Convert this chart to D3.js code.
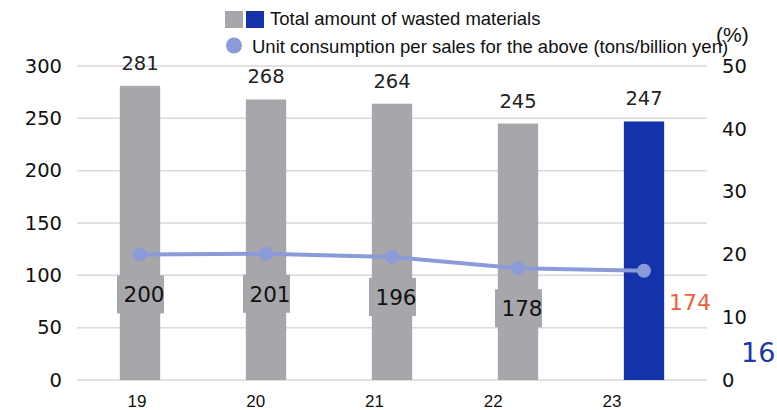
<!DOCTYPE html>
<html>
<head>
<meta charset="utf-8">
<script src="https://cdn.jsdelivr.net/npm/d3@7"></script>
<style>
  body { margin: 0; background: #fff; }
  text { font-family: "DejaVu Sans", Verdana, sans-serif; }
  .leg { font-family: "Liberation Sans", Arial, sans-serif; }
</style>
</head>
<body>
<div id="chart"></div>
<script>
// data
const years = ["19", "20", "21", "22", "23"];
const wasted = [281, 268, 264, 245, 247];
const unitRate = [20.0, 20.1, 19.6, 17.8, 17.4];
const unitLabels = ["200", "201", "196", "178", "174"];
const leftTicks = [0, 50, 100, 150, 200, 250, 300];
const rightTicks = [0, 10, 20, 30, 40, 50];

const width = 777;
const height = 410;

const grey = "#a7a7ab";
const blue = "#1432a9";
const lineColor = "#8b9ad8";

const svg = d3.select("#chart")
  .append("svg")
    .attr("width", width)
    .attr("height", height);

// scales
const x = d3.scaleBand()
  .domain(years)
  .range([77, 707])
  .paddingInner(0.68)
  .paddingOuter(0.34);

// year labels sit slightly off the bar centres in the original
const xLabel = d3.scalePoint()
  .domain(years)
  .range([137, 612]);

const yLeft = d3.scaleLinear().domain([0, 300]).range([380, 66]);
const yRight = d3.scaleLinear().domain([0, 50]).range([380, 66]);

// gridlines
svg.append("g")
  .selectAll("line")
  .data(leftTicks)
  .enter()
  .append("line")
    .attr("x1", 77)
    .attr("x2", 707)
    .attr("y1", d => yLeft(d))
    .attr("y2", d => yLeft(d))
    .attr("stroke", "#d9d9d9")
    .attr("stroke-width", 1.5);

// left axis
const leftAxis = svg.append("g")
  .attr("transform", "translate(72,0)")
  .call(d3.axisLeft(yLeft).tickValues(leftTicks).tickSize(0).tickPadding(10));
leftAxis.select(".domain").remove();
leftAxis.selectAll("text")
  .attr("font-size", 19.5)
  .attr("fill", "#111")
  .attr("font-family", "DejaVu Sans, sans-serif");

// right axis
const rightAxis = svg.append("g")
  .attr("transform", "translate(712,0)")
  .call(d3.axisRight(yRight).tickValues(rightTicks).tickSize(0).tickPadding(10));
rightAxis.select(".domain").remove();
rightAxis.selectAll("text")
  .attr("font-size", 19.5)
  .attr("fill", "#111")
  .attr("font-family", "DejaVu Sans, sans-serif");

svg.append("text")
  .attr("class", "leg")
  .attr("x", 716)
  .attr("y", 42)
  .attr("font-size", 21)
  .attr("fill", "#111")
  .text("(%)");

// bars
svg.append("g")
  .selectAll("rect")
  .data(wasted)
  .enter()
  .append("rect")
    .attr("x", (d, i) => x(years[i]))
    .attr("y", d => yLeft(d))
    .attr("width", x.bandwidth())
    .attr("height", d => yLeft(0) - yLeft(d))
    .attr("fill", (d, i) => i === years.length - 1 ? blue : grey);

// bar values
svg.append("g")
  .selectAll("text")
  .data(wasted)
  .enter()
  .append("text")
    .attr("x", (d, i) => x(years[i]) + x.bandwidth() / 2)
    .attr("y", d => yLeft(d) - 16)
    .attr("text-anchor", "middle")
    .attr("font-size", 19.5)
    .attr("fill", "#222")
    .text(d => d);

// year labels
svg.append("g")
  .selectAll("text")
  .data(years)
  .enter()
  .append("text")
    .attr("class", "leg")
    .attr("x", d => xLabel(d))
    .attr("y", 407)
    .attr("text-anchor", "middle")
    .attr("font-size", 17)
    .attr("fill", "#111")
    .text(d => d);

// line
const line = d3.line()
  .x((d, i) => x(years[i]) + x.bandwidth() / 2)
  .y(d => yRight(d));

svg.append("path")
  .datum(unitRate)
  .attr("d", line)
  .attr("fill", "none")
  .attr("stroke", lineColor)
  .attr("stroke-width", 4);

svg.append("g")
  .selectAll("circle")
  .data(unitRate)
  .enter()
  .append("circle")
    .attr("cx", (d, i) => x(years[i]) + x.bandwidth() / 2)
    .attr("cy", d => yRight(d))
    .attr("r", 7)
    .attr("fill", lineColor);

// unit labels in grey boxes
const last = unitRate.length - 1;
const lab = svg.append("g")
  .selectAll("g")
  .data(unitRate)
  .enter()
  .append("g")
    .attr("transform", (d, i) =>
      `translate(${x(years[i]) + x.bandwidth() / 2},${yRight(d) + (i === last ? 31 : 40)})`);

lab.filter((d, i) => i !== last)
  .append("rect")
    .attr("x", -23)
    .attr("y", -19)
    .attr("width", 47)
    .attr("height", 38)
    .attr("fill", grey);

lab.append("text")
  .attr("x", (d, i) => i === last ? 46 : 4)
  .attr("y", 8)
  .attr("text-anchor", "middle")
  .attr("font-size", (d, i) => i === last ? 22 : 21.5)
  .attr("fill", (d, i) => i === last ? "#f0603c" : "#111")
  .text((d, i) => unitLabels[i]);

svg.append("text")
  .attr("x", 741)
  .attr("y", 362)
  .attr("font-size", 27)
  .attr("fill", "#1a3aa8")
  .text("16");

// legend
const legend = svg.append("g").attr("class", "leg");
legend.append("rect")
  .attr("x", 225).attr("y", 11).attr("width", 18).attr("height", 17)
  .attr("fill", grey);
legend.append("rect")
  .attr("x", 246).attr("y", 11).attr("width", 18).attr("height", 17)
  .attr("fill", blue);
legend.append("text")
  .attr("class", "leg")
  .attr("x", 270).attr("y", 25)
  .attr("font-size", 18.5)
  .attr("fill", "#111")
  .text("Total amount of wasted materials");
legend.append("circle")
  .attr("cx", 234).attr("cy", 45.5).attr("r", 8)
  .attr("fill", lineColor);
legend.append("text")
  .attr("class", "leg")
  .attr("x", 252).attr("y", 53)
  .attr("font-size", 18.5)
  .attr("fill", "#111")
  .text("Unit consumption per sales for the above (tons/billion yen)");
</script>
</body>
</html>
